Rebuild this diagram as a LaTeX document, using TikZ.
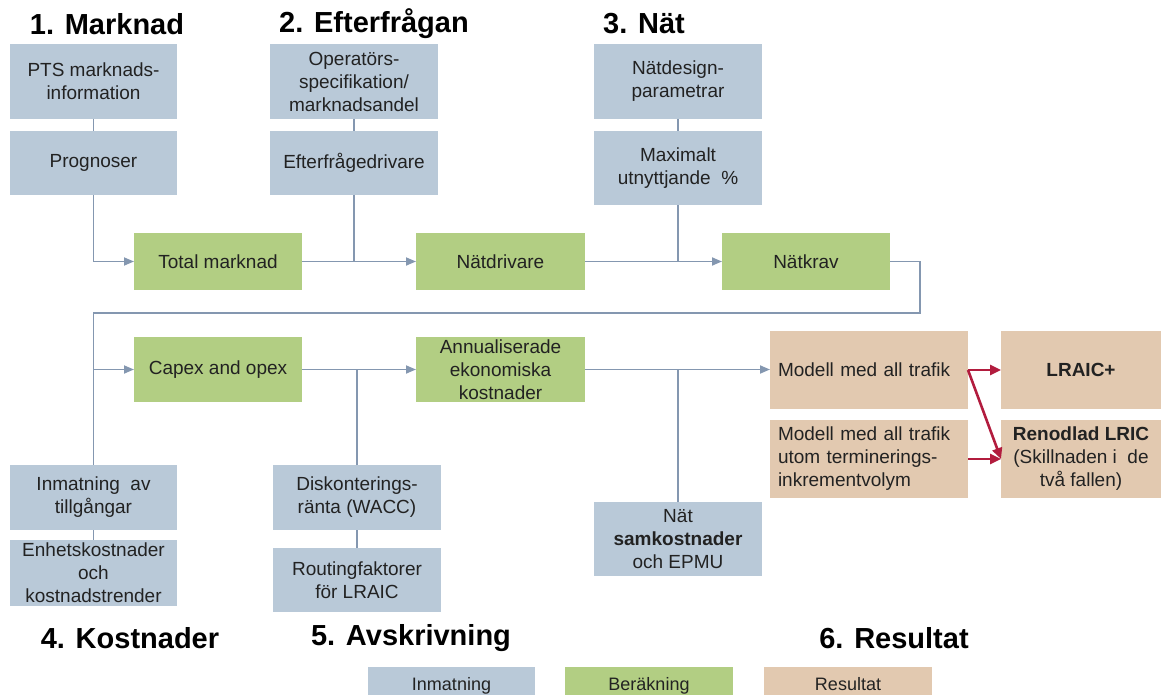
\documentclass[tikz,border=0pt]{standalone}
\usepackage{fontspec}
\setmainfont{Liberation Sans}
\usetikzlibrary{arrows.meta}
\definecolor{inputfill}{RGB}{185,201,216}
\definecolor{calcfill}{RGB}{178,206,131}
\definecolor{resultfill}{RGB}{226,201,176}
\definecolor{linkcol}{RGB}{132,151,176}
\definecolor{redlink}{RGB}{178,28,62}
\definecolor{txt}{RGB}{34,34,34}
\begin{document}
\begin{tikzpicture}[x=1pt,y=-1pt,
  basebox/.style={rectangle, draw=none, inner sep=2pt, outer sep=0pt, align=center,
    text=txt, font=\fontsize{19}{23}\selectfont, anchor=north west},
  inbox/.style={basebox, fill=inputfill},
  calcbox/.style={basebox, fill=calcfill},
  resbox/.style={basebox, fill=resultfill},
  wh/.style 2 args={minimum width=#1pt, minimum height=#2pt},
  heading/.style={font=\fontsize{29}{33}\selectfont\bfseries, text=black},
  legendtext/.style={font=\fontsize{18}{21}\selectfont, text height=13pt, text depth=4pt},
  link/.style={draw=linkcol, line width=1.7pt},
  linkarrow/.style={link, -{Triangle[length=10pt,width=8pt]}},
  redarrow/.style={draw=redlink, line width=2.6pt, -{Triangle[length=11pt,width=10pt]}}
]
\useasboundingbox (0,0) rectangle (1161,695);
\clip (0,0) rectangle (1161,695);

% section headings
\node[heading] (h1) at (107,24) {1. Marknad};
\node[heading] (h2) at (374,24) {2. Efterfrågan};
\node[heading] (h3) at (644,24) {3. Nät};
\node[heading] (h4) at (130,638) {4. Kostnader};
\node[heading] (h5) at (411,638) {5. Avskrivning};
\node[heading] (h6) at (894,638) {6. Resultat};

% 1. market inputs
\node[inbox, wh={167}{75}] (pts) at (10,44) {PTS marknads-\\information};
\node[inbox, wh={167}{64}] (prog) at (10,131) {Prognoser};
% 2. demand inputs
\node[inbox, wh={168}{75}] (oper) at (270,44) {Operatörs-\\specifikation/\\marknadsandel};
\node[inbox, wh={168}{64}] (efd) at (270,131) {Efterfrågedrivare};
% 3. network inputs
\node[inbox, wh={168}{75}] (ndp) at (594,44) {Nätdesign-\\parametrar};
\node[inbox, wh={168}{74}] (maxu) at (594,131) {Maximalt\\utnyttjande\ \ \%};

% calculation chain, upper row
\node[calcbox, wh={168}{57}] (tot) at (134,233) {Total marknad};
\node[calcbox, wh={169}{57}] (ndr) at (416,233) {Nätdrivare};
\node[calcbox, wh={168}{57}] (nkr) at (722,233) {Nätkrav};

% calculation chain, lower row
\node[calcbox, wh={168}{65}] (capex) at (134,337) {Capex and opex};
\node[calcbox, wh={169}{65}] (ann) at (416,337) {Annualiserade\\ekonomiska\\kostnader};

% 4. cost inputs
\node[inbox, wh={167}{65}] (inm) at (10,465) {Inmatning\ \ av\\tillgångar};
\node[inbox, wh={167}{66}] (enh) at (10,540) {Enhetskostnader\\och\\kostnadstrender};
% 5. depreciation inputs
\node[inbox, wh={168}{65}] (disk) at (273,465) {Diskonterings-\\ränta (WACC)};
\node[inbox, wh={168}{64}] (rout) at (273,548) {Routingfaktorer\\för LRAIC};
% common network costs
\node[inbox, wh={168}{74}] (nsk) at (594,502) {Nät\\\textbf{samkostnader}\\och EPMU};

% 6. results
\node[resbox, wh={198}{78}, inner xsep=8pt, text width=182pt, align=left] (mod1) at (770,331) {Modell med all trafik};
\node[resbox, wh={198}{78}, inner xsep=8pt, text width=182pt, align=left] (mod2) at (770,420) {Modell med all trafik\\utom terminerings-\\inkrementvolym};
\node[resbox, wh={160}{78}] (lraic) at (1001,331) {\textbf{LRAIC+}};
\node[resbox, wh={160}{78}] (reno) at (1001,420) {\textbf{Renodlad LRIC}\\(Skillnaden i\ \ de\\två fallen)};

% legend
\node[inbox, wh={167}{38}, legendtext] (leg1) at (368,667) {Inmatning};
\node[calcbox, wh={168}{38}, legendtext] (leg2) at (565,667) {Beräkning};
\node[resbox, wh={168}{38}, legendtext] (leg3) at (764,667) {Resultat};

% input stacks
\draw[link] (pts) -- (prog);
\draw[link] (oper) -- (efd);
\draw[link] (ndp) -- (maxu);
\draw[link] (inm) -- (enh);
\draw[link] (disk) -- (rout);

% upper calculation row
\draw[linkarrow] (prog.south) |- (tot.west);
\draw[link] (efd.south) -- (efd.south |- tot.east);
\draw[linkarrow] (tot.east) -- (ndr.west);
\draw[link] (maxu.south) -- (maxu.south |- ndr.east);
\draw[linkarrow] (ndr.east) -- (nkr.west);

% return path from network requirements to the cost block
\coordinate (turnR) at (920,313);
\coordinate (turnL) at (inm.north |- turnR);
\draw[link] (nkr.east) -| (turnR) -- (turnL) -- (inm.north);
\draw[linkarrow] (inm.north |- capex.west) -- (capex.west);

% lower calculation row
\draw[linkarrow] (capex.east) -- (ann.west);
\draw[link] (disk.north) -- (disk.north |- capex.east);
\draw[linkarrow] (ann.east) -- (mod1.west |- ann.east);
\draw[link] (nsk.north) -- (nsk.north |- ann.east);

% results
\draw[redarrow] (mod1.east) -- (lraic.west);
\draw[redarrow] (mod1.east) -- (reno.west);
\draw[redarrow] (mod2.east) -- (reno.west);
\end{tikzpicture}
\end{document}
